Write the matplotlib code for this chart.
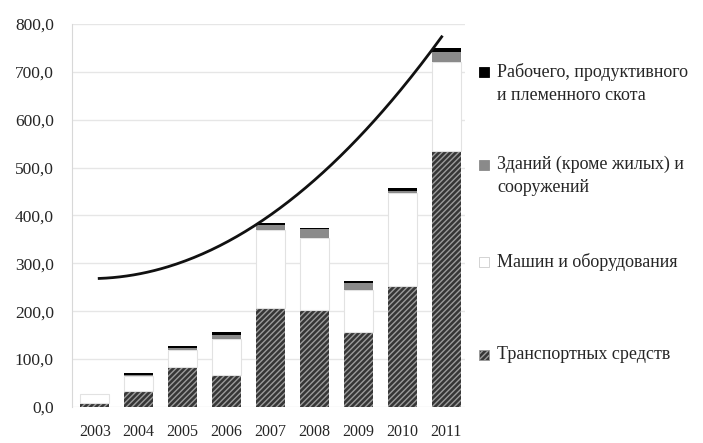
import numpy as np
import matplotlib.pyplot as plt
from matplotlib.patches import Rectangle

plt.rcParams['font.family'] = ['Liberation Serif', 'DejaVu Serif']
plt.rcParams['hatch.linewidth'] = 1.0

years = ['2003', '2004', '2005', '2006', '2007', '2008', '2009', '2010', '2011']
transport = [8, 34, 84, 67, 206, 202, 157, 253, 534]
machines = [20, 31, 36, 76, 164, 150, 87, 193, 187]
buildings = [0, 2, 3, 8, 10, 20, 14, 5, 21]
livestock = [0, 3, 4, 6, 5, 2, 6, 7, 7]

# points (index position, value)
trend_x = [0.1, 1, 2, 3, 4, 5, 6, 7, 7.9]
trend_y = [273, 278, 298, 338, 400, 478, 570, 668, 767]

labels = ['Рабочего, продуктивного\nи племенного скота',
          'Зданий (кроме жилых) и\nсооружений',
          'Машин и оборудования',
          'Транспортных средств']

fig = plt.figure(figsize=(7.03, 4.43), dpi=100)
ax = fig.add_axes([0.1024, 0.0813, 0.5590, 0.8645])

x = np.arange(len(years))
w = 0.66
b1 = np.array(transport)
b2 = b1 + np.array(machines)
b3 = b2 + np.array(buildings)

ax.bar(x, transport, w, color='#363636', edgecolor='#9c9c9c', hatch='//////', linewidth=0, zorder=2)
ax.bar(x, machines, w, bottom=b1, color='white', edgecolor='#e2e2e2', linewidth=0.8, zorder=2)
ax.bar(x, buildings, w, bottom=b2, color='#8a8a8a', linewidth=0, zorder=2)
ax.bar(x, livestock, w, bottom=b3, color='black', linewidth=0, zorder=2)

coef = np.polyfit(trend_x, trend_y, 2)
xx = np.linspace(trend_x[0], trend_x[-1], 200)
ax.plot(xx, np.polyval(coef, xx), color='#111111', linewidth=2.0, zorder=3)

ax.set_xlim(-0.52, 8.43)
ax.set_ylim(0, 800)
ax.set_yticks(np.arange(0, 801, 100))
ax.set_yticklabels([f'{v},0' for v in range(0, 801, 100)])
ax.set_xticks(x)
ax.set_xticklabels(years)
ax.yaxis.grid(True, color='#e6e6e6', linewidth=1.0, zorder=0)
ax.set_axisbelow(True)
for s in ['top', 'right', 'bottom']:
    ax.spines[s].set_visible(False)
ax.spines['left'].set_color('#d8d8d8')
ax.tick_params(axis='both', length=0, colors='#262626')
ax.tick_params(axis='x', pad=12, labelsize=11.5)
ax.tick_params(axis='y', pad=13, labelsize=12.5)

# legend
swatches = [dict(fc='black', ec='black', hatch=None),
            dict(fc='#8a8a8a', ec='#8a8a8a', hatch=None),
            dict(fc='white', ec='#cccccc', hatch=None),
            dict(fc='#363636', ec='#9c9c9c', hatch='//////')]
ys = [72, 165, 262, 355]
for lab, sw, yp in zip(labels, swatches, ys):
    fy = 1 - yp / 443
    fig.add_artist(Rectangle((479 / 703, fy - 5 / 443), 10 / 703, 10 / 443,
                             transform=fig.transFigure, facecolor=sw['fc'],
                             edgecolor=sw['ec'], hatch=sw['hatch'], linewidth=0.6))
    fig.text(497 / 703, fy + 9 / 443, lab, fontsize=13, color='#262626',
             va='top', ha='left', linespacing=1.45)

fig.savefig('out.png', dpi=100)
